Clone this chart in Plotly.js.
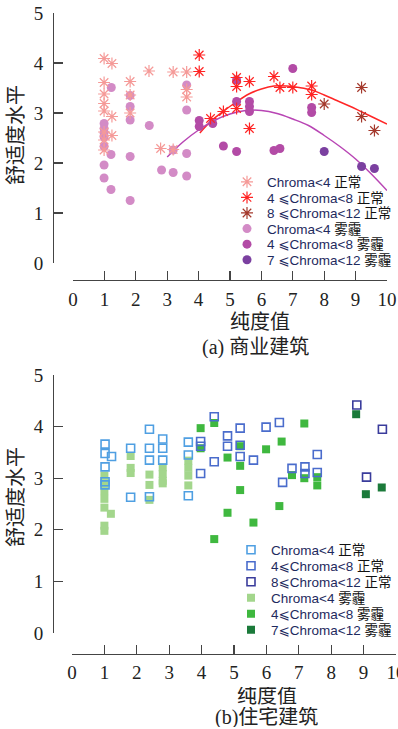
<!DOCTYPE html>
<html>
<head>
<meta charset="utf-8">
<script src="https://cdn.plot.ly/plotly-3.0.1.min.js"></script>
<style>
  html, body { margin: 0; padding: 0; background: #fff; }
  #chart { width: 398px; height: 729px; }
</style>
</head>
<body>
<div id="chart"></div>
<script>
// ---------- (a) 商业建筑 : purity value vs comfort level ----------
// 正常 (clear-sky) samples, asterisks
const comNormLowX  = [0.99, 1.24, 0.99, 0.99, 0.99, 0.99, 1.24, 0.99, 1.24, 0.99, 0.99, 1.82, 1.82, 1.82, 2.42, 3.19, 3.62, 3.62, 3.62, 2.79, 3.19];
const comNormLowY  = [4.09, 3.99, 3.61, 3.38, 3.19, 3.04, 2.93, 2.62, 2.55, 2.46, 2.26, 3.63, 3.36, 3.00, 3.84, 3.82, 3.82, 3.47, 3.32, 2.29, 2.27];
const comNormMidX  = [4.02, 4.02, 5.21, 5.21, 5.62, 5.62, 6.40, 6.59, 7.00, 7.60, 7.60, 4.79, 5.21, 4.38];
const comNormMidY  = [4.16, 3.83, 3.71, 3.53, 3.63, 2.69, 3.73, 3.51, 3.51, 3.54, 3.37, 3.03, 3.09, 2.89];
const comNormHighX = [8.00, 9.19, 9.19, 9.60];
const comNormHighY = [3.18, 3.51, 2.93, 2.65];
// 雾霾 (haze) samples, dots
const comHazeLowX  = [1.22, 0.99, 0.99, 0.99, 0.99, 0.99, 1.21, 0.99, 0.99, 1.21, 1.82, 1.82, 1.82, 1.82, 1.82, 2.43, 2.82, 3.19, 3.62, 3.62, 3.62, 3.62, 3.19];
const comHazeLowY  = [3.51, 2.79, 2.69, 2.60, 2.52, 2.33, 2.17, 1.96, 1.70, 1.47, 3.35, 3.13, 2.86, 2.13, 1.25, 2.75, 1.86, 1.81, 1.74, 3.56, 3.06, 2.19, 2.26];
const comHazeMidX  = [4.02, 4.02, 4.45, 5.21, 5.21, 5.62, 5.62, 5.62, 4.79, 5.21, 6.40, 6.59, 7.00, 7.60, 7.60];
const comHazeMidY  = [2.85, 2.73, 2.79, 3.66, 3.23, 3.23, 3.13, 3.03, 2.34, 2.23, 2.25, 2.29, 3.89, 3.11, 3.01];
const comHazeHighX = [8.00, 9.19, 9.60];
const comHazeHighY = [2.23, 1.93, 1.89];
// fitted trend curves
const comNormFitX = [4.04, 4.40, 4.80, 5.20, 5.60, 6.00, 6.40, 6.80, 7.20, 7.60, 8.00, 8.40, 8.80, 9.20, 9.60, 10.0];
const comNormFitY = [2.60, 2.84, 3.04, 3.22, 3.38, 3.48, 3.54, 3.54, 3.51, 3.46, 3.36, 3.25, 3.14, 3.02, 2.90, 2.78];
const comHazeFitX = [3.00, 3.50, 4.00, 4.50, 5.00, 5.50, 6.00, 6.50, 7.00, 7.50, 8.00, 8.50, 9.00, 9.50, 10.0];
const comHazeFitY = [2.12, 2.42, 2.66, 2.85, 2.98, 3.05, 3.05, 2.99, 2.88, 2.75, 2.55, 2.33, 2.08, 1.78, 1.45];

// ---------- (b) 住宅建筑 ----------
const resNormLowX  = [1.02, 1.02, 1.22, 1.02, 1.02, 1.02, 1.81, 1.81, 2.39, 2.39, 2.39, 2.39, 2.80, 2.80, 2.80, 3.59, 3.59, 3.59];
const resNormLowY  = [3.66, 3.48, 3.42, 3.22, 2.93, 2.87, 3.58, 2.63, 3.95, 3.58, 3.35, 2.64, 3.76, 3.58, 3.35, 3.70, 3.45, 2.66];
const resNormMidX  = [3.97, 3.97, 3.97, 4.39, 4.39, 4.80, 4.80, 5.19, 5.19, 5.19, 5.60, 5.99, 6.40, 6.50, 6.79, 7.19, 7.19, 7.57, 7.57];
const resNormMidY  = [3.71, 3.62, 3.09, 4.19, 3.32, 3.82, 3.62, 3.97, 3.64, 3.42, 3.35, 3.99, 4.08, 2.92, 3.19, 3.22, 3.09, 3.46, 3.11];
const resNormHighX = [8.79, 9.58, 9.09];
const resNormHighY = [4.42, 3.95, 3.02];
const resHazeLowX  = [1.00, 1.00, 1.00, 1.00, 1.00, 1.20, 1.00, 1.00, 1.81, 1.81, 1.81, 2.39, 2.39, 2.39, 2.80, 2.80, 2.80, 2.80, 3.59, 3.59, 3.59, 3.59];
const resHazeLowY  = [3.05, 2.90, 2.75, 2.60, 2.43, 2.31, 2.08, 1.98, 3.43, 3.20, 3.10, 3.07, 2.87, 2.58, 3.21, 3.08, 2.95, 2.90, 3.34, 3.20, 3.05, 2.86];
const resHazeMidX  = [3.97, 3.97, 4.39, 4.39, 4.80, 4.80, 5.19, 5.19, 5.19, 5.60, 5.99, 6.40, 6.47, 6.79, 7.17, 7.17, 7.57, 7.57];
const resHazeMidY  = [3.97, 3.58, 4.07, 1.82, 3.40, 2.33, 3.62, 3.24, 2.77, 2.14, 3.56, 2.46, 3.71, 3.06, 4.06, 3.00, 3.02, 2.86];
const resHazeHighX = [8.77, 9.07, 9.56];
const resHazeHighY = [4.24, 2.69, 2.82];

// legend labels
const LT = '&lt;';
const comNames = [
  'Chroma' + LT + '4 <span style="color:#111">正常</span>',
  '4 ⩽Chroma' + LT + '8 <span style="color:#111">正常</span>',
  '8 ⩽Chroma' + LT + '12 <span style="color:#111">正常</span>',
  'Chroma' + LT + '4 <span style="color:#111">雾霾</span>',
  '4 ⩽Chroma' + LT + '8 <span style="color:#111">雾霾</span>',
  '7 ⩽Chroma' + LT + '12 <span style="color:#111">雾霾</span>'
];
const resNames = [
  'Chroma' + LT + '4 <span style="color:#111">正常</span>',
  '4⩽Chroma' + LT + '8 <span style="color:#111">正常</span>',
  '8⩽Chroma' + LT + '12 <span style="color:#111">正常</span>',
  'Chroma' + LT + '4 <span style="color:#111">雾霾</span>',
  '4⩽Chroma' + LT + '8 <span style="color:#111">雾霾</span>',
  '7⩽Chroma' + LT + '12 <span style="color:#111">雾霾</span>'
];

const W = 398, H = 729;
const px = v => v / W;          // pixel -> paper x
const py = v => 1 - v / H;      // pixel -> paper y

function markers(x, y, name, legendId, xa, ya, marker) {
  return { type: 'scatter', mode: 'markers', x, y, name, legend: legendId,
           xaxis: xa, yaxis: ya, marker, hoverinfo: 'x+y' };
}
function asterisk(color) { return { symbol: 'asterisk-open', size: 10, color, line: { width: 1.2, color } }; }
function dot(color)      { return { symbol: 'circle', size: 9, color, line: { width: 0 } }; }
function box(color)      { return { symbol: 'square-open', size: 8, color, line: { width: 1.6, color } }; }
function block(color)    { return { symbol: 'square', size: 8, color, line: { width: 0 } }; }

const traces = [
  { type: 'scatter', mode: 'lines', x: comNormFitX, y: comNormFitY, xaxis: 'x', yaxis: 'y',
    line: { color: '#ff2626', width: 1.5, shape: 'spline' }, showlegend: false, hoverinfo: 'skip' },
  { type: 'scatter', mode: 'lines', x: comHazeFitX, y: comHazeFitY, xaxis: 'x', yaxis: 'y',
    line: { color: '#b845b4', width: 1.5, shape: 'spline' }, showlegend: false, hoverinfo: 'skip' },
  markers(comHazeLowX,  comHazeLowY,  comNames[3], 'legend4', 'x', 'y', dot('#d38bc6')),
  markers(comHazeMidX,  comHazeMidY,  comNames[4], 'legend5', 'x', 'y', dot('#b34ba6')),
  markers(comHazeHighX, comHazeHighY, comNames[5], 'legend6', 'x', 'y', dot('#7b40a0')),
  markers(comNormLowX,  comNormLowY,  comNames[0], 'legend',  'x', 'y', asterisk('#f59a98')),
  markers(comNormMidX,  comNormMidY,  comNames[1], 'legend2', 'x', 'y', asterisk('#ff2424')),
  markers(comNormHighX, comNormHighY, comNames[2], 'legend3', 'x', 'y', asterisk('#a4392c')),

  markers(resHazeLowX,  resHazeLowY,  resNames[3], 'legend10', 'x2', 'y2', block('#a3d68c')),
  markers(resHazeMidX,  resHazeMidY,  resNames[4], 'legend11', 'x2', 'y2', block('#3fb83f')),
  markers(resHazeHighX, resHazeHighY, resNames[5], 'legend12', 'x2', 'y2', block('#1b7a3a')),
  markers(resNormLowX,  resNormLowY,  resNames[0], 'legend7',  'x2', 'y2', box('#4f9fe2')),
  markers(resNormMidX,  resNormMidY,  resNames[1], 'legend8',  'x2', 'y2', box('#4a6ccc')),
  markers(resNormHighX, resNormHighY, resNames[2], 'legend9',  'x2', 'y2', box('#3a3c9c'))
];

const axisColor = '#444';
const tickFont = { family: 'Liberation Serif, serif', size: 19, color: '#222' };
function axis(extra) {
  return Object.assign({
    anchor: 'free', showline: true, linecolor: axisColor, linewidth: 1.3,
    ticks: 'inside', ticklen: 9, tickwidth: 1.3, tickcolor: axisColor,
    tickfont: tickFont, showgrid: false, zeroline: false, fixedrange: true,
    ticklabeloverflow: 'allow'
  }, extra);
}
const xTicks = [0, 1, 2, 3, 4, 5, 6, 7, 8, 9, 10];
const yTicks = [0, 1, 2, 3, 4, 5];

const legendFont = { family: 'Liberation Sans, DejaVu Sans, Noto Sans CJK SC, sans-serif', size: 13.5, color: '#1e2a5e' };
function legendRow(xPx, yPx) {
  return { x: px(xPx), y: py(yPx), xanchor: 'left', yanchor: 'middle',
           bgcolor: 'rgba(0,0,0,0)', borderwidth: 0, font: legendFont,
           itemwidth: 30, tracegroupgap: 0, itemclick: false, itemdoubleclick: false };
}

const titleFont = { family: 'Liberation Serif, Noto Sans CJK SC, serif', size: 20, color: '#222' };
function label(text, xPx, yPx, angle, boxH) {
  const a = { text, x: px(xPx), y: py(yPx), xref: 'paper', yref: 'paper',
              showarrow: false, xanchor: 'center', yanchor: 'middle', borderpad: 0,
              textangle: angle || 0, font: titleFont };
  if (boxH) a.height = boxH;
  return a;
}

const layout = {
  width: W, height: H,
  margin: { l: 0, r: 0, t: 0, b: 0 },
  paper_bgcolor: '#fff', plot_bgcolor: 'rgba(0,0,0,0)',
  showlegend: true,
  xaxis:  axis({ domain: [px(73), px(387)], range: [0, 10], position: py(280), tickvals: xTicks, ticklabelstandoff: 2 }),
  yaxis:  axis({ domain: [py(263), py(13)], range: [0, 5], position: px(53), tickvals: yTicks, ticklabelstandoff: 6 }),
  xaxis2: axis({ domain: [px(72), px(396)], range: [0, 10], position: py(654), tickvals: xTicks, ticklabelstandoff: 1 }),
  yaxis2: axis({ domain: [py(633), py(375)], range: [0, 5], position: px(53), tickvals: yTicks, ticklabelstandoff: 6 }),
  legend:   legendRow(227, 182),
  legend2:  legendRow(227, 197.6),
  legend3:  legendRow(227, 213.2),
  legend4:  legendRow(227, 228.8),
  legend5:  legendRow(227, 244.4),
  legend6:  legendRow(227, 260),
  legend7:  legendRow(231, 550),
  legend8:  legendRow(231, 566),
  legend9:  legendRow(231, 582),
  legend10: legendRow(231, 598),
  legend11: legendRow(231, 614),
  legend12: legendRow(231, 630),
  annotations: [
    label('舒适度水平', 16, 135, -90),
    label('纯度值', 260, 322, 0, 22),
    label('(a) 商业建筑', 255, 347, 0, 22),
    label('舒适度水平', 16, 497, -90),
    label('纯度值', 267, 696, 0, 18),
    label('(b)住宅建筑', 266, 717, 0, 20)
  ]
};

Plotly.newPlot('chart', traces, layout, { staticPlot: true, displayModeBar: false });
</script>
</body>
</html>
